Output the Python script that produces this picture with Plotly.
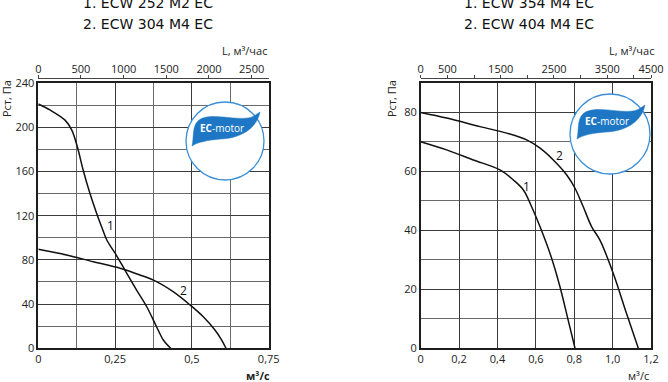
import plotly.graph_objects as go

W, H = 668, 382

# ---------------- data ----------------
# Left chart: Q (m3/s) vs Pst (Pa)
left_c1_q = [0.0, 0.038, 0.087, 0.109, 0.127, 0.146, 0.168, 0.190, 0.206, 0.223, 0.250, 0.282, 0.320, 0.353, 0.385, 0.407, 0.431]
left_c1_p = [221, 215.6, 206.4, 197.4, 182.4, 161.3, 140.2, 122, 110, 98, 86, 70.8, 52.7, 37.6, 19.5, 7.5, 0]
left_c2_q = [0.0, 0.092, 0.179, 0.266, 0.331, 0.385, 0.439, 0.494, 0.537, 0.575, 0.597, 0.611]
left_c2_p = [89.6, 84.4, 78.3, 72.4, 66.3, 60.3, 51.2, 39.2, 28.6, 16.6, 7.5, 0]

# Right chart
right_c1_q = [0.0, 0.135, 0.274, 0.413, 0.483, 0.535, 0.578, 0.622, 0.683, 0.726, 0.769, 0.804]
right_c1_p = [70.1, 67.3, 63.9, 60.5, 57.1, 53.7, 48, 41.2, 30.4, 20.8, 9.4, 0]
right_c2_q = [0.0, 0.135, 0.309, 0.448, 0.552, 0.622, 0.691, 0.761, 0.804, 0.847, 0.891, 0.934, 1.004, 1.073, 1.134]
right_c2_p = [80, 78.1, 75.2, 73, 70.7, 67.9, 63.9, 58.8, 54.3, 48, 41.2, 36.7, 25.3, 11.7, 0]

# Tick labels
left_x_vals = [0, 0.25, 0.5, 0.75]
left_x_text = ["0", "0,25", "0,5", "0,75"]
left_y_vals = [0, 40, 80, 120, 160, 200, 240]
left_top_vals = [0, 500, 1000, 1500, 2000, 2500]
left_top_text = ["0", "500", "1000", "1500", "2000", "2500"]

right_x_vals = [0, 0.2, 0.4, 0.6, 0.8, 1.0, 1.2]
right_x_text = ["0", "0,2", "0,4", "0,6", "0,8", "1,0", "1,2"]
right_y_vals = [0, 20, 40, 60, 80]
right_top_vals = [0, 500, 1000, 1500, 2000, 2500, 3000, 3500, 4000, 4320]
right_top_text = ["0", "500", "", "1500", "", "2500", "", "3500", "", "4500"]

titles_left = ["1. ECW 252 M2 EC", "2. ECW 304 M4 EC"]
titles_right = ["1. ECW 354 M4 EC", "2. ECW 404 M4 EC"]

# curve label positions (data coords)
left_labels = [("1", 0.234, 111), ("2", 0.472, 52.7)]
right_labels = [("1", 0.549, 55), ("2", 0.722, 65.3)]


def fx(px):
    return px / W


def fy(py):
    return 1 - py / H


FONT = "Open Sans"
TXT = "#222222"
GRID = "#3a3a3a"
GRIDMIN = "#6a6a6a"
FRAME = "#1e1e1e"

fig = go.Figure()
line = dict(color="#111111", width=1.5, shape="spline", smoothing=1.0)
fig.add_trace(go.Scatter(x=left_c1_q, y=left_c1_p, mode="lines", line=line, xaxis="x", yaxis="y", hoverinfo="skip"))
fig.add_trace(go.Scatter(x=left_c2_q, y=left_c2_p, mode="lines", line=line, xaxis="x", yaxis="y", hoverinfo="skip"))
fig.add_trace(go.Scatter(x=right_c1_q, y=right_c1_p, mode="lines", line=line, xaxis="x2", yaxis="y2", hoverinfo="skip"))
fig.add_trace(go.Scatter(x=right_c2_q, y=right_c2_p, mode="lines", line=line, xaxis="x2", yaxis="y2", hoverinfo="skip"))
# dummy traces for top axes
fig.add_trace(go.Scatter(x=[0], y=[0], mode="markers", marker=dict(opacity=0), xaxis="x3", yaxis="y", hoverinfo="skip"))
fig.add_trace(go.Scatter(x=[0], y=[0], mode="markers", marker=dict(opacity=0), xaxis="x4", yaxis="y2", hoverinfo="skip"))

tickfont = dict(family=FONT, size=11, color=TXT)

L_X = (38.3, 268.7)
R_X = (420.7, 651.0)
Y_TOP, Y_BOT = 83.0, 348.3
TOP_AX = 77.7


def xax(dom, rng, vals, text, minor):
    return dict(domain=[fx(dom[0]), fx(dom[1])], range=rng, tickvals=vals, ticktext=text,
                showgrid=True, gridcolor=GRID, gridwidth=1,
                minor=dict(dtick=minor, showgrid=True, gridcolor=GRIDMIN, gridwidth=1),
                showline=True, mirror=True, linecolor=FRAME, linewidth=1.5,
                zeroline=False, ticks="", tickfont=tickfont, fixedrange=True, automargin=False)


def yax(rng, vals, minor, anchor):
    return dict(domain=[fy(Y_BOT), fy(Y_TOP)], range=rng, tickvals=vals,
                showgrid=True, gridcolor=GRID, gridwidth=1,
                minor=dict(dtick=minor, showgrid=True, gridcolor=GRIDMIN, gridwidth=1),
                showline=True, mirror=True, linecolor=FRAME, linewidth=1.5,
                zeroline=False, ticks="", tickfont=tickfont, anchor=anchor, fixedrange=True,
                automargin=False)


def topax(over, rng, vals, text):
    return dict(overlaying=over, side="top", anchor="free", position=fy(TOP_AX), range=rng,
                tickvals=vals, ticktext=text, showgrid=False, zeroline=False,
                showline=True, linecolor="#444444", linewidth=1, ticks="outside", ticklen=3,
                tickcolor="#444444", tickfont=tickfont, fixedrange=True, automargin=False,
                ticklabelstandoff=-3)


fig.update_layout(
    width=W, height=H, margin=dict(l=0, r=0, t=0, b=0, autoexpand=False),
    paper_bgcolor="white", plot_bgcolor="white", showlegend=False,
    xaxis=xax(L_X, [0, 0.75], left_x_vals, left_x_text, 0.125),
    yaxis=yax([0, 240], left_y_vals, 20, "x"),
    xaxis2=dict(xax(R_X, [0, 1.2], right_x_vals, right_x_text, 0.2), anchor="y2"),
    yaxis2=yax([0, 90], right_y_vals, 10, "x2"),
    xaxis3=topax("x", [0, 2700], left_top_vals, left_top_text),
    xaxis4=topax("x2", [0, 4320], right_top_vals, right_top_text),
)
fig.layout.xaxis.anchor = "y"

ann = []
def txt(x, y, s, size=11, xanchor="center", yanchor="middle", angle=0, family=FONT, color=TXT):
    ann.append(dict(x=fx(x), y=fy(y), xref="paper", yref="paper", text=s, showarrow=False,
                    xanchor=xanchor, yanchor=yanchor, textangle=angle,
                    font=dict(family=family, size=size, color=color)))

# titles
for i, t in enumerate(titles_left):
    txt(148, 3 + 21 * i, t, size=14, family="DejaVu Sans", color="#111111")
for i, t in enumerate(titles_right):
    txt(529, 3 + 21 * i, t, size=14, family="DejaVu Sans", color="#111111")

# axis titles
txt(269, 51, "L, м³/час", xanchor="right")
txt(656, 51, "L, м³/час", xanchor="right")
txt(272, 375, "<b>м³/с</b>", xanchor="right")
txt(651, 375, "м³/с", xanchor="right")
txt(6, 99, "Рст, Па", angle=-90)
txt(391, 99, "Рст, Па", angle=-90)

# curve labels
for s, xq, yp in left_labels:
    ann.append(dict(x=xq, y=yp, xref="x", yref="y", text=s, showarrow=False,
                    font=dict(family=FONT, size=12, color="#111111")))
for s, xq, yp in right_labels:
    ann.append(dict(x=xq, y=yp, xref="x2", yref="y2", text=s, showarrow=False,
                    font=dict(family=FONT, size=12, color="#111111")))

# logos
shapes = []
LEAF = [("M", (-33, 5)), ("C", (-31, -3), (-33, -15), (-27, -20)), ("C", (-22, -25), (-12, -25), (-2, -24)),
        ("C", (10, -23), (22, -21), (29, -25)), ("L", (35, -29)), ("C", (32, -14), (18, -3), (-4, -2)),
        ("C", (-17, -1), (-27, 1), (-33, 5))]


def logo(cx, cy, r):
    shapes.append(dict(type="circle", xref="paper", yref="paper", x0=fx(cx - r), x1=fx(cx + r),
                       y0=fy(cy + r), y1=fy(cy - r), fillcolor="white",
                       line=dict(color="#3a8fd8", width=1.3), layer="above"))
    parts = []
    for seg in LEAF:
        cmd = seg[0]
        pts = " ".join(f"{fx(cx + dx):.5f},{fy(cy + dy):.5f}" for dx, dy in seg[1:])
        parts.append(f"{cmd} {pts}")
    path = " ".join(parts) + " Z"
    shapes.append(dict(type="path", xref="paper", yref="paper", path=path, fillcolor="#1d77c4",
                       line=dict(color="#1d77c4", width=0.5), layer="above"))
    ann.append(dict(x=fx(cx - 3), y=fy(cy - 13), xref="paper", yref="paper",
                    text="<b>EC</b>-motor", showarrow=False, xanchor="center", yanchor="middle",
                    font=dict(family=FONT, size=10, color="white")))


logo(225, 141, 39)
logo(610, 134, 40)

fig.update_layout(annotations=ann, shapes=shapes)
fig.write_html("out.html")
